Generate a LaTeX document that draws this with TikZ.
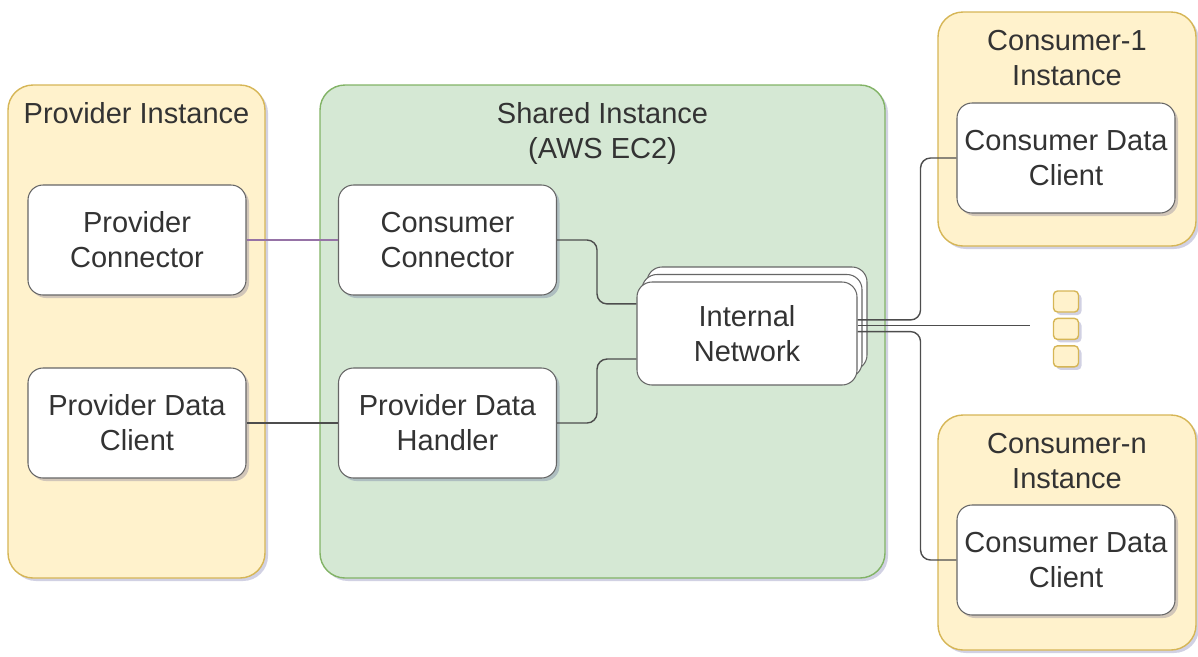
\documentclass[tikz,border=0pt]{standalone}
\usepackage{fontspec}
\setmainfont{Liberation Sans}
\usepackage{xcolor}
\usepackage{tikz}
\usetikzlibrary{positioning, shadows}
\definecolor{yellowfill}{HTML}{FFF2CC}
\definecolor{yellowdraw}{HTML}{D6B656}
\definecolor{greenfill}{HTML}{D5E8D4}
\definecolor{greendraw}{HTML}{82B366}
\definecolor{boxgray}{HTML}{666666}
\definecolor{linegray}{HTML}{4D4D4D}
\definecolor{linepurple}{HTML}{9673A6}
\definecolor{txtgray}{HTML}{333333}
\tikzstyle{soft} = [drop shadow={shadow xshift=0.06cm, shadow yshift=-0.06cm, opacity=0.18, fill=blue!40!black}]
\tikzstyle{instance} = [rectangle, rounded corners=0.5cm, draw=yellowdraw, fill=yellowfill, line width=0.8pt, soft]
\tikzstyle{shared} = [instance, draw=greendraw, fill=greenfill]
\tikzstyle{title} = [text=txtgray, align=center, font=\fontsize{16.5}{19.9}\selectfont]
\tikzstyle{box} = [rectangle, rounded corners=0.3cm, minimum width=4.36cm, minimum height=2.2cm, align=center, draw=boxgray, fill=white, line width=0.6pt, text=txtgray, font=\fontsize{16.5}{19.9}\selectfont, soft]
\tikzstyle{stack} = [rectangle, rounded corners=0.3cm, minimum width=4.4cm, minimum height=2.06cm, align=center, draw=boxgray, fill=white, line width=0.6pt, text=txtgray, font=\fontsize{16.5}{19.9}\selectfont, double copy shadow={shadow xshift=0.1cm, shadow yshift=0.15cm, fill=white, draw=boxgray}]
\tikzstyle{more} = [rectangle, rounded corners=0.08cm, minimum width=0.5cm, minimum height=0.42cm, draw=yellowdraw, fill=yellowfill, line width=0.8pt, soft]
\tikzstyle{link} = [line width=0.8pt, draw=linegray, rounded corners=0.2cm]

\begin{document}
\begin{tikzpicture}[node distance=3.66cm]
\useasboundingbox (0,0) rectangle (23.96,-13.12);
\node (provinst) [instance, minimum width=5.14cm, minimum height=9.86cm] at (2.73,-6.63) {};
\node (sharedinst) [shared, minimum width=11.3cm, minimum height=9.86cm] at (12.05,-6.63) {};
\node (cons1inst) [instance, minimum width=5.16cm, minimum height=4.68cm] at (21.34,-2.58) {};
\node (consninst) [instance, minimum width=5.16cm, minimum height=4.7cm] at (21.34,-10.65) {};

\node (provtitle) [title, below=0.24cm of provinst.north] {Provider Instance};
\node (sharedtitle) [title, below=0.24cm of sharedinst.north] {Shared Instance\\(AWS EC2)};
\node (cons1title) [title, below=0.26cm of cons1inst.north] {Consumer-1\\Instance};
\node (consntitle) [title, below=0.26cm of consninst.north] {Consumer-n\\Instance};

\node (provconn) [box] at (2.74,-4.8) {Provider\\Connector};
\node (provclient) [box, below of=provconn] {Provider Data\\Client};
\node (consconn) [box, right of=provconn, xshift=2.55cm] {Consumer\\Connector};
\node (provhandler) [box, below of=consconn] {Provider Data\\Handler};
\node (network) [stack] at (14.94,-6.67) {Internal\\Network};
\node (cons1client) [box] at (21.32,-3.16) {Consumer Data\\Client};
\node (consnclient) [box] at (21.32,-11.2) {Consumer Data\\Client};

\node (more1) [more] at (21.32,-6.03) {};
\node (more2) [more, below=0.1cm of more1] {};
\node (more3) [more, below=0.1cm of more2] {};
\coordinate (moreend) at (20.6,-6.52);

\draw [link, draw=linepurple, line width=1.4pt] (provconn) -- (consconn);
\draw [link] (provclient) -- (provhandler);
\draw [link] (consconn.east) -- ++(0.8,0) |- (network.165);
\draw [link] (provhandler.east) -- ++(0.8,0) |- (network.193);
\draw [link] (network.7) -- ++(1.26,0) |- (cons1client.west);
\draw [link] (network.4) -- (network.4 -| moreend);
\draw [link] (network.1) -- ++(1.26,0) |- (consnclient.west);
\end{tikzpicture}
\end{document}
